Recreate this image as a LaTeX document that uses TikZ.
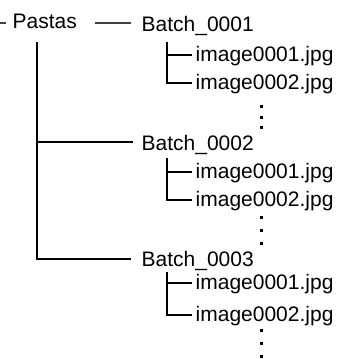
\documentclass[tikz,border=0pt]{standalone}
\usepackage{fontspec}
\setmainfont{Liberation Sans}
\usetikzlibrary{positioning}

\begin{document}
\begin{tikzpicture}[x=1pt, y=-1pt]
  \tikzset{
    entry/.style={font=\fontsize{21}{25}\selectfont, inner sep=0pt, anchor=base west},
    branch/.style={line width=2pt},
    stem/.style={line width=1.2pt, black!75},
    dotmark/.style={fill=black, inner sep=0pt, minimum size=3pt},
  }
  \useasboundingbox (0,0) rectangle (341,359);

  % Root folder
  \node[entry] (pastas) at (12.5,28) {Pastas};

  % Batch folders
  \node[entry] (b1) at (141.5,31)  {Batch\_0001};
  \node[entry] (b2) at (141.5,150) {Batch\_0002};
  \node[entry] (b3) at (141.5,266) {Batch\_0003};

  % Image files
  \node[entry] (i11) at (195.5,61)  {image0001.jpg};
  \node[entry] (i12) at (195.5,89)  {image0002.jpg};
  \node[entry] (i21) at (195.5,178) {image0001.jpg};
  \node[entry] (i22) at (195.5,206) {image0002.jpg};
  \node[entry] (i31) at (195.5,289) {image0001.jpg};
  \node[entry] (i32) at (195.5,321) {image0002.jpg};

  % Continuation dots
  \foreach \y in {106,117,127,217,230,243,330,343,356}
    \node[dotmark] (dot-\y) at (261,\y) {};

  % Root stem
  \coordinate (stub) at (0,23);
  \draw[stem] (stub) -- ([shift={(-7pt,5pt)}]pastas.base west);
  \draw[stem] ([shift={(18pt,5pt)}]pastas.base east) -- ([shift={(-11pt,8pt)}]b1.base west);

  % Trunk to the other batches
  \coordinate (trunk) at (37,42);
  \coordinate (b2j) at ([shift={(-9pt,8pt)}]b2.base west);
  \coordinate (b3j) at ([shift={(-11pt,7pt)}]b3.base west);
  \draw[branch] (trunk) |- (b3j);
  \draw[branch] (trunk |- b2j) -- (b2j);

  % Batch subtrees
  \foreach \b/\top in {1/42,2/158,3/272} {
    \coordinate (s\b) at (167,\top);
    \coordinate (j\b1) at ([shift={(-4pt,6pt)}]i\b1.base west);
    \coordinate (j\b2) at ([shift={(-4pt,6pt)}]i\b2.base west);
    \draw[branch] (s\b) |- (j\b2);
    \draw[branch] (s\b |- j\b1) -- (j\b1);
  }
\end{tikzpicture}
\end{document}
